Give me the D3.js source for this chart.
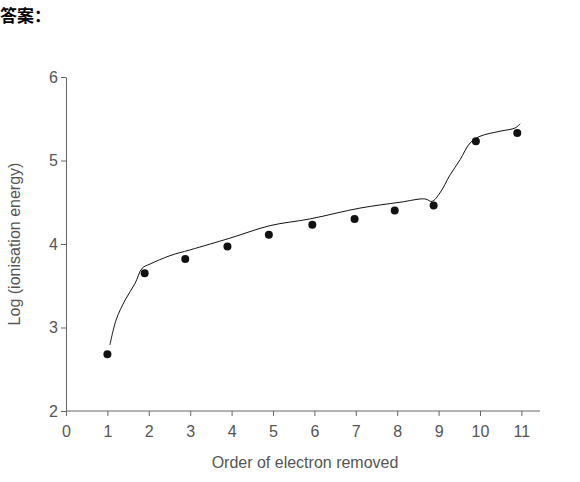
<!DOCTYPE html>
<html><head><meta charset="utf-8">
<script src="https://cdn.jsdelivr.net/npm/d3@7"></script>
<style>body{margin:0;background:#fff}text{font-family:"Liberation Sans",Arial,sans-serif}</style>
</head><body><svg id="c" width="580" height="482"></svg>
<script>
const xTicks=[0,1,2,3,4,5,6,7,8,9,10,11];
const yTicks=[2,3,4,5,6];
const pointX=[1,1.9,2.88,3.9,4.9,5.95,6.97,7.94,8.88,9.9,10.9];
const pointY=[2.68,3.65,3.82,3.97,4.11,4.23,4.30,4.40,4.46,5.23,5.33];
const curveX=[1.06,1.21,1.43,1.67,1.84,2.03,2.51,3.0,3.96,4.93,5.89,7.10,8.07,8.67,8.84,9.03,9.28,9.52,9.76,10.0,10.48,10.85,10.97];
const curveY=[2.79,3.09,3.33,3.53,3.71,3.76,3.86,3.93,4.07,4.22,4.30,4.43,4.50,4.54,4.51,4.61,4.83,5.01,5.21,5.29,5.35,5.39,5.44];
const svg=d3.select("#c");
svg.append("text").attr("x",0).attr("y",22).attr("font-size",17).attr("font-weight","bold")
 .style("font-family","Noto Sans CJK SC").text("答案：");
const x=d3.scaleLinear().domain([0,11]).range([66,521.4]);
const y=d3.scaleLinear().domain([2,6]).range([411,77]);
const grey="#666";
const xa=svg.append("g").attr("transform","translate(0,411)").call(d3.axisBottom(x).tickValues(xTicks).tickSize(5).tickSizeOuter(0));
xa.select(".domain").attr("d","M66,0H540");
const ya=svg.append("g").attr("transform","translate(66,0)").call(d3.axisLeft(y).tickValues(yTicks).tickFormat(d3.format("d")).tickSize(5).tickSizeOuter(0));
[xa,ya].forEach(a=>{a.selectAll("path,line").attr("stroke",grey);a.selectAll("text").attr("fill","#555").attr("font-size",16).style("font-family","Liberation Sans");});
xa.selectAll("text").attr("dy","1.1em");
svg.append("text").attr("x",305).attr("y",468).attr("text-anchor","middle").attr("font-size",16).attr("fill","#555").text("Order of electron removed");
svg.append("text").attr("transform","translate(20,244) rotate(-90)").attr("text-anchor","middle").attr("font-size",16).attr("fill","#555").text("Log (ionisation energy)");
svg.append("path").datum(curveX.map((d,i)=>[d,curveY[i]])).attr("fill","none").attr("stroke","#111").attr("stroke-width",1)
 .attr("d",d3.line().x(d=>x(d[0])).y(d=>y(d[1])).curve(d3.curveCatmullRom));
svg.selectAll("circle").data(pointX).enter().append("circle").attr("cx",d=>x(d)).attr("cy",(d,i)=>y(pointY[i])).attr("r",4).attr("fill","#111");
</script></body></html>
